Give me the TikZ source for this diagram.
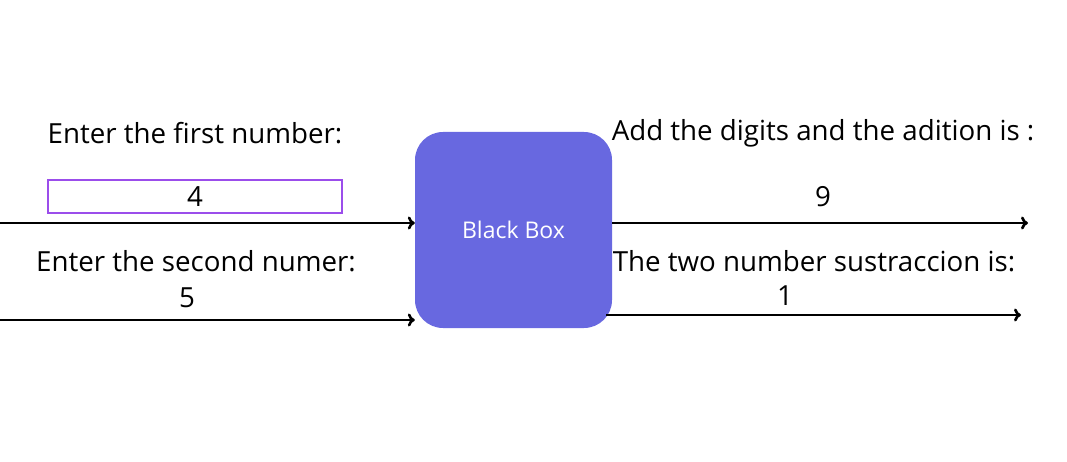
\documentclass[tikz,border=0pt]{standalone}
\usepackage{fontspec}
\setmainfont{Open Sans}
\usepackage{tikz}
\usetikzlibrary{arrows.meta}
\definecolor{boxblue}{RGB}{104,104,224}
\definecolor{fieldpurple}{RGB}{155,77,235}

\begin{document}
\begin{tikzpicture}[x=1pt, y=-1pt,
  label text/.style = {font=\fontsize{27.7}{32}\selectfont, inner sep=0pt},
  flow/.style = {-{To[length=7pt, width=13pt, line width=2.6pt]}, line width=2.6pt}]
\useasboundingbox (0,0) rectangle (1067,462);
\node [fill=boxblue, rounded corners=28pt, minimum width=197pt, minimum height=196pt, inner sep=0pt,
  text=white, font=\fontsize{23}{27}\selectfont] (bb) at (513.5,230) {Black Box};
\coordinate (in1) at (0,223);
\coordinate (in2) at (0,320);
\coordinate (out1) at (1028,223);
\coordinate (out2) at (1021,315);
\draw [flow] (in1) -- (bb.west |- in1);
\draw [flow] (in2) -- (bb.west |- in2);
\draw [flow] (bb.east |- out1) -- (out1);
\draw [flow] (606,315) -- (out2);
\node [draw=fieldpurple, line width=2pt, minimum width=294pt, minimum height=33pt] (field) at (195,196.5) {};
\node [label text] (first) at (195,133) {Enter the first number:};
\node [label text] (four) at (field) {4};
\node [label text] (second) at (196,261) {Enter the second numer:};
\node [label text] (five) at (187,298) {5};
\node [label text] (add) at (823,133) {Add the digits and the adition is :};
\node [label text] (nine) at (823,197) {9};
\node [label text] (sub) at (814,261) {The two number sustraccion is:};
\node [label text] (one) at (785,296) {1};
\end{tikzpicture}
\end{document}
